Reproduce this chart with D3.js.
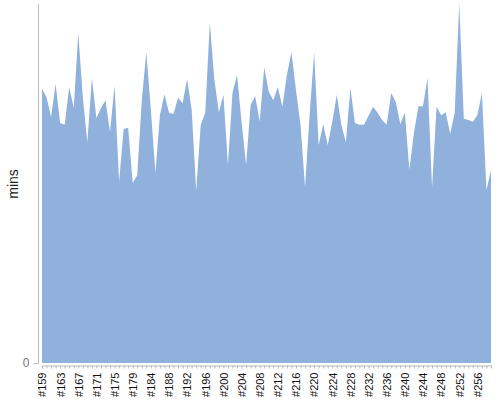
<!DOCTYPE html>
<html>
<head>
<meta charset="utf-8">
<script src="https://cdn.jsdelivr.net/npm/d3@7"></script>
<style>
  html, body { margin: 0; padding: 0; background: #fff; }
  svg { display: block; }
  text { font-family: "Liberation Sans", Arial, sans-serif; }
</style>
</head>
<body>
<svg id="chart" width="500" height="400"></svg>
<script>
const categories = [
  "#159","#160","#161","#162","#163","#164","#165","#166","#167","#168",
  "#169","#170","#171","#172","#173","#174","#175","#176","#177","#178",
  "#179","#181","#182","#183","#184","#185","#186","#187","#188","#189",
  "#190","#191","#192","#193","#194","#195","#196","#197","#198","#199",
  "#200","#201","#202","#203","#204","#205","#206","#207","#208","#209",
  "#210","#211","#212","#213","#214","#215","#216","#217","#218","#219",
  "#220","#221","#222","#223","#224","#225","#226","#227","#228","#229",
  "#230","#231","#232","#233","#234","#235","#236","#237","#238","#239",
  "#240","#241","#242","#243","#244","#245","#246","#247","#248","#249",
  "#250","#251","#252","#253","#254","#255","#256","#257","#258","#259"
];
const mins = [
  45.7,44.3,41.0,46.5,40.0,39.7,46.0,42.5,55.0,44.3,
  36.8,47.5,40.8,42.5,43.8,38.5,46.2,30.2,39.0,39.2,
  30.0,31.3,43.8,51.8,42.2,31.7,41.3,44.8,41.7,41.5,
  44.2,43.3,47.3,42.2,28.7,39.7,41.7,56.7,47.2,41.8,
  44.7,33.0,45.0,48.0,40.2,33.0,43.0,44.5,40.2,49.3,
  45.2,43.8,46.0,42.7,48.0,51.8,45.5,39.7,29.3,41.3,
  51.7,36.3,39.8,36.3,40.2,44.7,39.7,36.8,45.8,40.0,
  39.7,39.7,41.2,42.7,41.7,40.5,39.7,45.0,43.5,39.8,
  41.7,32.2,38.3,42.8,42.8,47.5,29.2,42.7,41.3,41.8,
  38.2,41.7,60.0,40.7,40.5,40.2,41.3,45.0,28.8,32.2
];
const yTicks = [0];
const yLabel = "mins";

const svg = d3.select("#chart");
const mLeft = 42, mRight = 491, mTop = 3, mBottom = 363;

const x = d3.scalePoint().domain(categories).range([mLeft, mRight]).padding(0);
const y = d3.scaleLinear().domain([0, d3.max(mins)]).range([mBottom, mTop]);

const data = categories.map((c, i) => ({c, v: mins[i]}));

svg.append("path")
  .datum(data)
  .attr("fill", "#8fb1db")
  .attr("d", d3.area().x(d => x(d.c)).y0(y(0)).y1(d => y(d.v)));

// y axis
const yAxis = svg.append("g")
  .attr("transform", "translate(38.5,0)")
  .call(d3.axisLeft(y).tickValues(yTicks).tickSize(5).tickSizeOuter(0));
yAxis.select(".domain").attr("stroke", "#bbb").attr("d", `M0,${y(0)}V${mTop + 1}`);
yAxis.selectAll(".tick line").attr("stroke", "#bbb");
yAxis.selectAll(".tick text").attr("fill", "#777").attr("font-size", 12).attr("dx", -1);

// x axis
const xAxis = svg.append("g")
  .attr("transform", "translate(0,365.5)")
  .call(d3.axisBottom(x).tickSize(3).tickSizeOuter(0)
    .tickFormat((d, i) => i % 4 === 0 ? d : ""));
xAxis.select(".domain").attr("stroke", "#bbb");
xAxis.selectAll(".tick line").attr("stroke", "#bbb");
xAxis.selectAll(".tick text")
  .attr("fill", "#111")
  .attr("font-size", 11)
  .attr("text-anchor", "end")
  .attr("transform", "rotate(-90)")
  .attr("x", -7)
  .attr("y", 0)
  .attr("dy", "0.35em");

svg.append("text")
  .attr("transform", "translate(18,184) rotate(-90)")
  .attr("text-anchor", "middle")
  .attr("font-size", 14)
  .attr("fill", "#222")
  .text(yLabel);
</script>
</body>
</html>
